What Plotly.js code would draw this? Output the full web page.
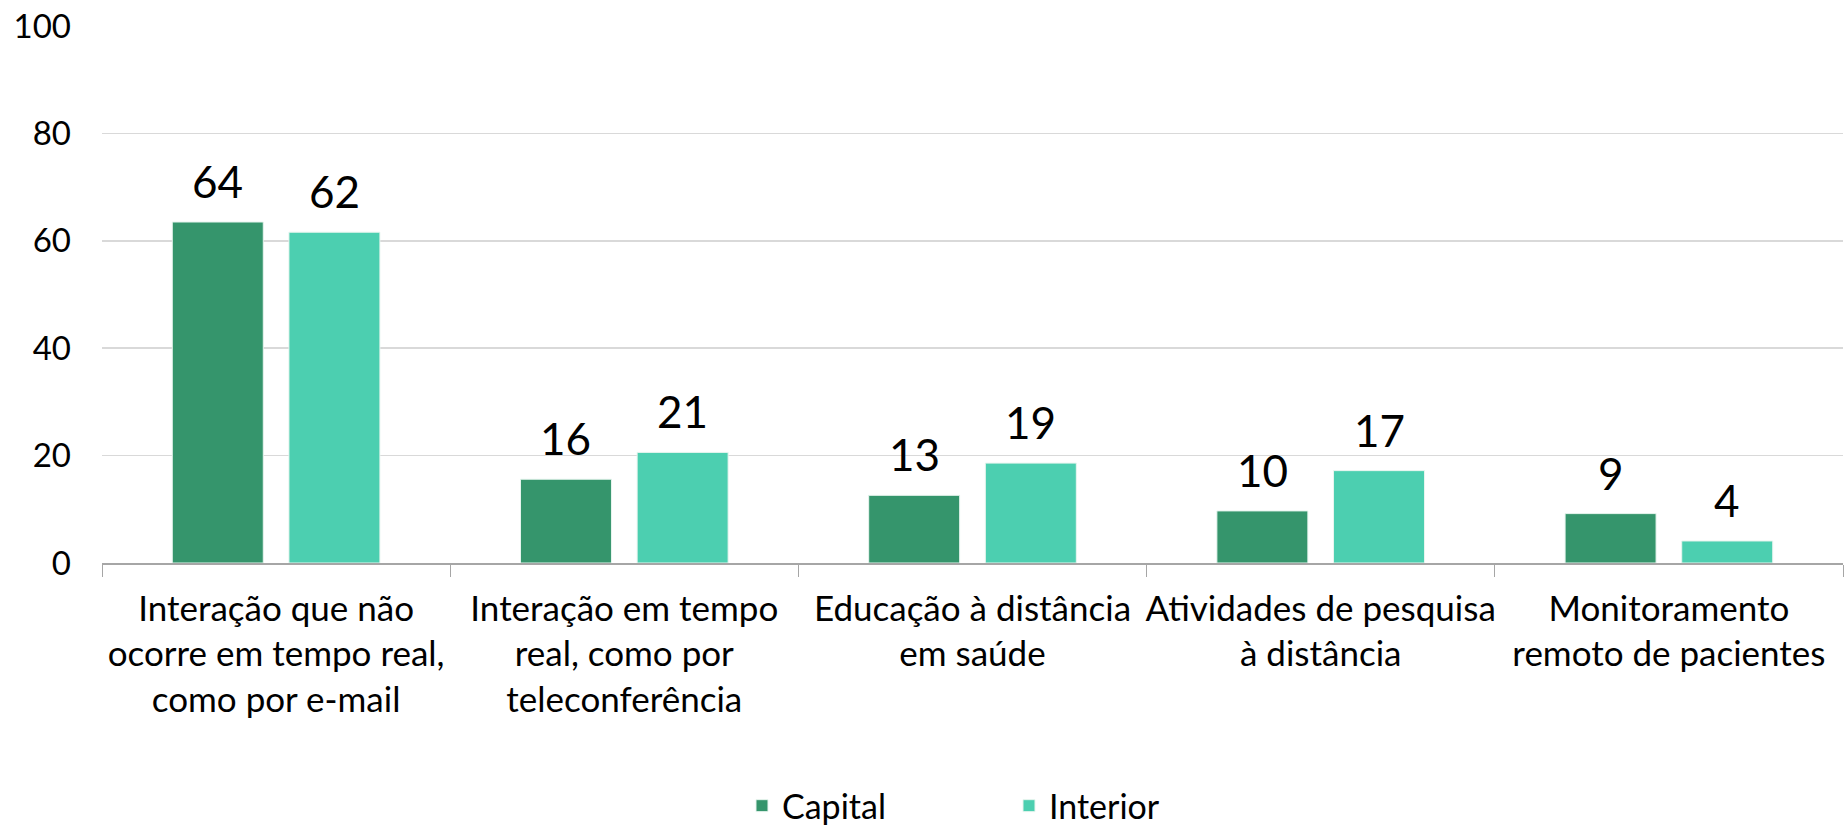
<!DOCTYPE html>
<html>
<head>
<meta charset="utf-8">
<script src="https://cdn.plot.ly/plotly-3.0.1.min.js"></script>
<style>html,body{margin:0;padding:0;background:#fff;}#chart{width:1845px;height:831px;}</style>
</head>
<body>
<div id="chart"></div>
<script>
const categories = [
  "Interação que não<br>ocorre em tempo real,<br>como por e-mail",
  "Interação em tempo<br>real, como por<br>teleconferência",
  "Educação à distância<br>em saúde",
  "Atividades de pesquisa<br>à distância",
  "Monitoramento<br>remoto de pacientes"
];
const capitalValues = [63.5, 15.6, 12.6, 9.7, 9.2];
const interiorValues = [61.6, 20.6, 18.6, 17.2, 4.1];
const seriesNames = ["Capital", "Interior"];
const yTicks = [0, 20, 40, 60, 80, 100];

const FONT = "Lato, 'Open Sans', sans-serif";
const BARGAP = 0.33;
const traces = [
  {type: 'bar', name: seriesNames[0], x: categories, y: capitalValues,
   marker: {color: '#35956C', line: {color: '#e8f5ef', width: 1}}, hoverinfo: 'x+y'},
  {type: 'bar', name: seriesNames[1], x: categories, y: interiorValues,
   marker: {color: '#4CCFB0', line: {color: '#e8f5ef', width: 1}}, hoverinfo: 'x+y'}
];
const groupOffset = (1 - BARGAP) / 4;
const annotations = [];
[capitalValues, interiorValues].forEach((vals, s) => {
  vals.forEach((v, i) => {
    annotations.push({
      xref: 'x', yref: 'y', x: i + (s === 0 ? -groupOffset : groupOffset), y: v,
      text: String(Math.round(v)), showarrow: false, yanchor: 'bottom', xanchor: 'center',
      yshift: 13, font: {family: FONT, size: 44, color: '#000'}
    });
  });
});
const layout = {
  width: 1845, height: 831,
  margin: {l: 102, r: 2, t: 26, b: 268},
  paper_bgcolor: '#fff', plot_bgcolor: '#fff',
  font: {family: FONT, color: '#000'},
  barmode: 'group', bargap: BARGAP, bargroupgap: 0.22,
  showlegend: true,
  annotations: annotations,
  legend: {orientation: 'h', x: 0.3676, xanchor: 'left', xref: 'paper',
           y: 0.03, yanchor: 'middle', yref: 'container',
           font: {family: FONT, size: 34, color: '#000'},
           entrywidth: 222, entrywidthmode: 'pixels', itemwidth: 30, traceorder: 'normal'},
  xaxis: {type: 'category', tickson: 'boundaries', ticks: 'outside', ticklen: 12,
          tickcolor: '#a6a6a6', showline: true, linecolor: '#a6a6a6', linewidth: 1.5,
          ticklabelstandoff: 14, tickangle: 0,
          tickfont: {family: FONT, size: 35, color: '#000'}, showgrid: false, automargin: false},
  yaxis: {range: [0, 100], tickvals: yTicks, showgrid: true, gridcolor: '#d9d9d9', gridwidth: 1.5,
          zeroline: false, showline: false, ticks: '', ticklabelstandoff: 30,
          tickfont: {family: FONT, size: 33, color: '#000'}, automargin: false}
};
Plotly.newPlot('chart', traces, layout, {displayModeBar: false, staticPlot: true});
</script>
</body>
</html>
